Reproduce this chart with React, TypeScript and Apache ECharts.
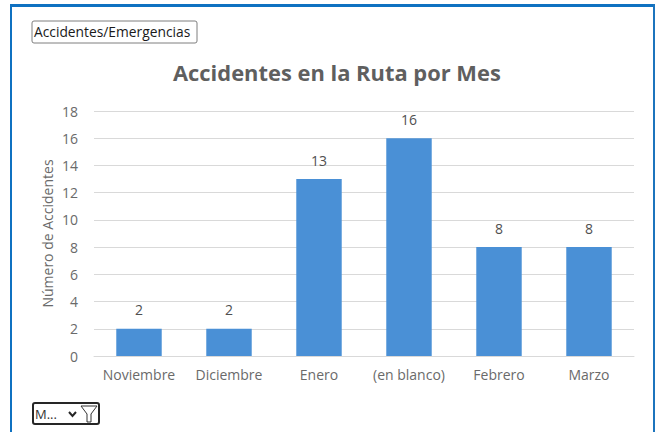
import React, { useEffect, useRef } from "react";
import * as echarts from "echarts";

const categories = ["Noviembre", "Diciembre", "Enero", "(en blanco)", "Febrero", "Marzo"];
const values = [2, 2, 13, 16, 8, 8];
const titleText = "Accidentes en la Ruta por Mes";
const yAxisName = "Número de Accidentes";
const reportFilter = "Accidentes/Emergencias";
const axisFilter = "M...";

const FONT = "'Open Sans', 'Noto Sans', sans-serif";

export default function App() {
  const ref = useRef<HTMLDivElement>(null);
  useEffect(() => {
    document.body.style.margin = "0";
    const chart = echarts.init(ref.current!, undefined, { renderer: "svg" });
    chart.setOption({
      animation: false,
      backgroundColor: "#ffffff",
      textStyle: { fontFamily: FONT },
      title: {
        text: titleText,
        left: 168,
        top: 54,
        textStyle: { fontFamily: FONT, fontSize: 21.9, fontWeight: "bold", color: "#5f5f5f", lineHeight: 26 },
      },
      grid: { left: 94, right: 22, top: 111, bottom: 76 },
      xAxis: {
        type: "category",
        data: categories,
        axisLine: { show: true, lineStyle: { color: "#d9d9d9", width: 1 } },
        axisTick: { show: false },
        axisLabel: { color: "#6a6a6a", fontSize: 14, fontFamily: FONT, margin: 11, interval: 0, hideOverlap: false },
      },
      yAxis: {
        type: "value",
        min: 0,
        max: 18,
        interval: 2,
        name: yAxisName,
        nameLocation: "middle",
        nameGap: 40,
        nameMoveOverlap: false,
        nameTextStyle: { color: "#6a6a6a", fontSize: 14, fontFamily: FONT },
        axisLine: { show: false },
        axisTick: { show: false },
        axisLabel: { color: "#6a6a6a", fontSize: 14, fontFamily: FONT, margin: 16 },
        splitLine: { lineStyle: { color: "#d9d9d9", width: 1 } },
      },
      series: [
        {
          type: "bar",
          data: values,
          barWidth: "50.5%",
          itemStyle: { color: "#4a90d6" },
          label: {
            show: true,
            position: "top",
            distance: 12,
            color: "#505050",
            fontSize: 14,
            fontFamily: FONT,
          },
        },
      ],
      graphic: [
        { type: "rect", shape: { x: 10, y: 4, width: 644, height: 3 }, style: { fill: "#0f71c1" }, silent: true },
        { type: "rect", shape: { x: 10, y: 4, width: 2, height: 428 }, style: { fill: "#0f71c1" }, silent: true },
        { type: "rect", shape: { x: 653, y: 4, width: 2, height: 428 }, style: { fill: "#1c74bd" }, silent: true },
        {
          type: "rect",
          shape: { x: 32, y: 21, width: 165, height: 22, r: 2 },
          style: { fill: "#ffffff", stroke: "#7f7f7f", lineWidth: 1 },
          silent: true,
        },
        {
          type: "text",
          x: 34,
          y: 31,
          style: { text: reportFilter, fill: "#1a1a1a", font: `13.8px ${FONT}`, textVerticalAlign: "middle" },
          silent: true,
        },
        {
          type: "rect",
          shape: { x: 33, y: 403, width: 66, height: 21, r: 2 },
          style: { fill: "#ffffff", stroke: "#262626", lineWidth: 2 },
          silent: true,
        },
        {
          type: "text",
          x: 35,
          y: 414,
          style: { text: axisFilter, fill: "#333333", font: `13px ${FONT}`, textVerticalAlign: "middle" },
          silent: true,
        },
        {
          type: "polyline",
          shape: { points: [[69, 412], [72.5, 416], [76, 412]] },
          style: { stroke: "#262626", fill: "none", lineWidth: 2 },
          silent: true,
        },
        {
          type: "polygon",
          shape: { points: [[81, 406], [97, 406], [91, 414], [91, 422], [87, 422], [87, 414]] },
          style: { stroke: "#333333", fill: "#ffffff", lineWidth: 1 },
          silent: true,
        },
      ],
    });
    return () => chart.dispose();
  }, []);
  return <div ref={ref} style={{ width: 656, height: 432 }} />;
}
